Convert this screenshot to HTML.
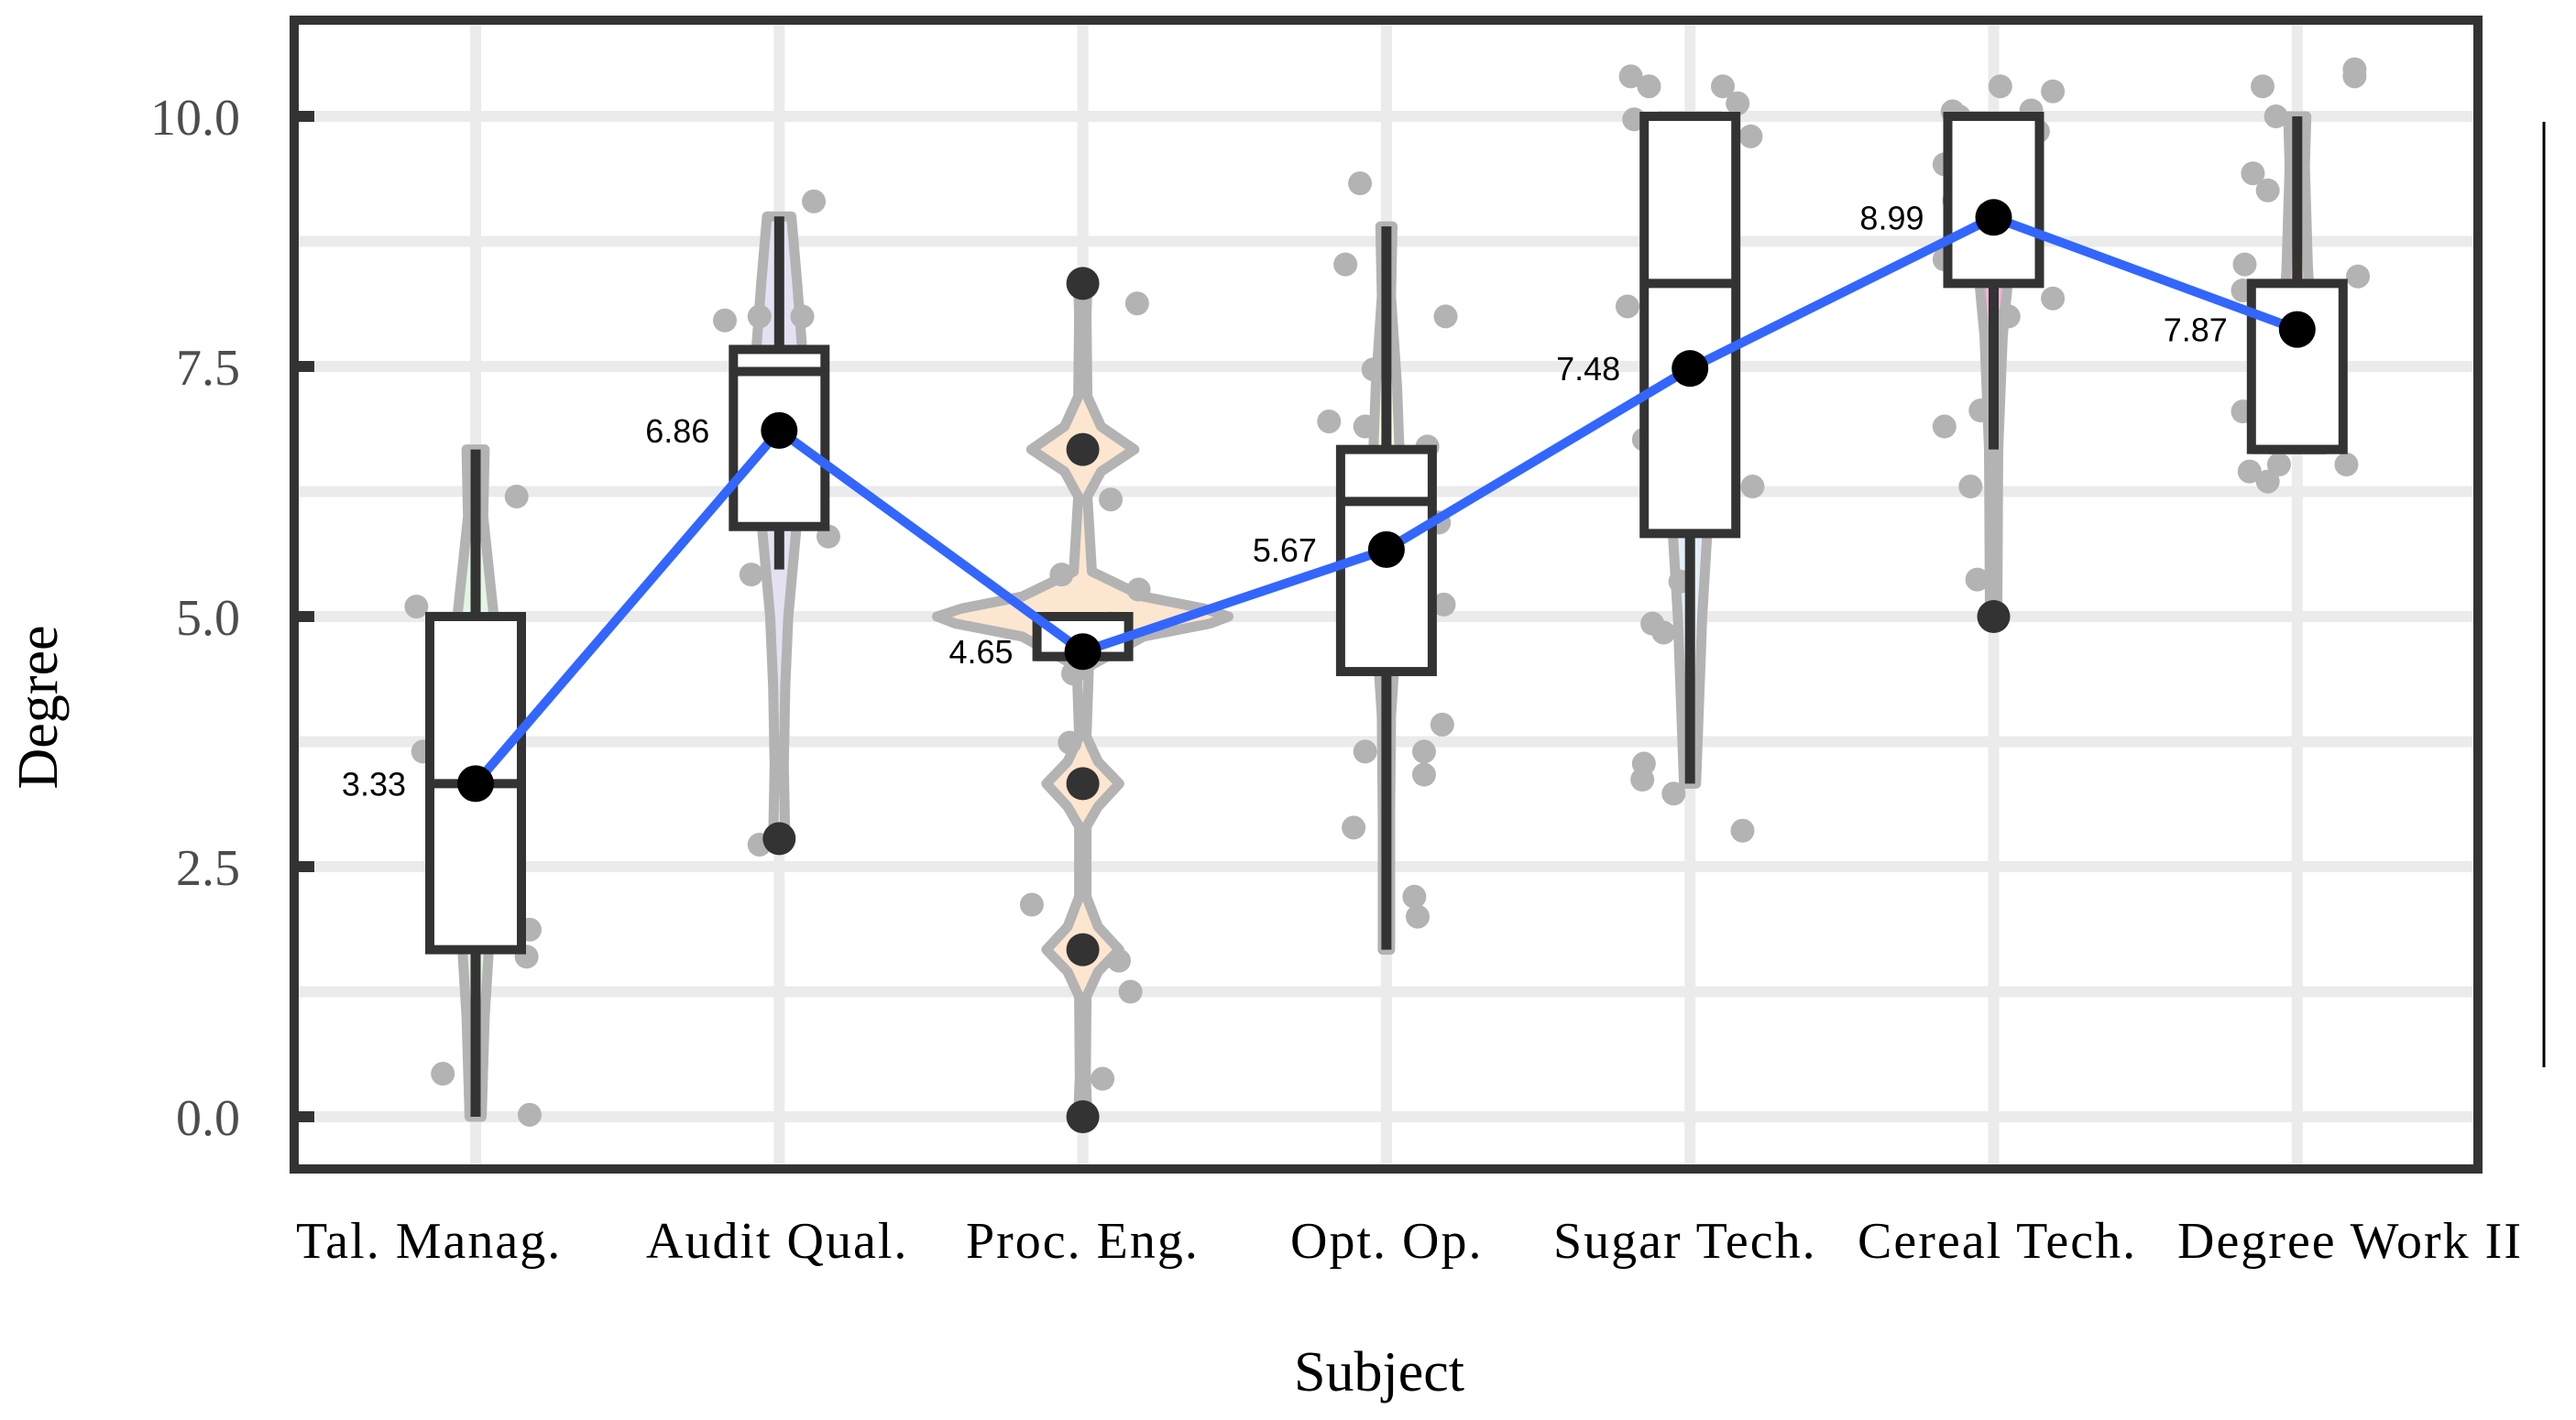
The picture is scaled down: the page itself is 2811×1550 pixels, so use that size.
<!DOCTYPE html>
<html><head><meta charset="utf-8"><style>html,body{margin:0;padding:0;background:#fff}svg{display:block}</style></head>
<body>
<svg id="chart" width="2811" height="1550" xmlns="http://www.w3.org/2000/svg">
<rect x="0" y="0" width="2811" height="1550" fill="#fff"/>
<g id="grid"></g><g id="violins"></g><g id="points"></g><g id="boxes"></g><g id="means"></g><g id="axes"></g>
</svg>
<script>
const categories = ["Tal. Manag.","Audit Qual.","Proc. Eng.","Opt. Op.","Sugar Tech.","Cereal Tech.","Degree Work II"];
const labelStart = [323,705,1054,1408,1695,2027,2376];
const meanValues = [3.33,6.86,4.65,5.67,7.48,8.99,7.87];
const q1Values = [1.67,5.9,4.6,4.45,5.83,8.33,6.67];
const medianValues = [3.33,7.45,4.6,6.15,8.33,10,6.67];
const q3Values = [5.0,7.67,5.0,6.67,10,10,8.33];
const whiskerLow = [0,5.47,4.6,1.67,3.33,6.67,6.67];
const whiskerHigh = [6.67,9.0,5.0,8.9,10,10,10];
const outliers = [[],[2.78],[8.33,6.67,3.33,1.67,0],[],[],[5.0],[]];
const violinFill = ["#e3f5e3","#e6e1f2","#fde6cf","#fafade","#e3eef8","#f2b3d6","#e9c9b0"];
// violin density: [value, half-width in category units]
const violinDensity = [
 [[0,0.02],[1,0.03],[2,0.05],[3.3,0.08],[4.5,0.07],[5,0.06],[6,0.025],[6.67,0.03]],
 [[2.78,0.02],[3.5,0.015],[4.3,0.02],[5,0.03],[6,0.06],[7,0.08],[7.7,0.075],[8.3,0.06],[9,0.04]],
 [[0,0.015],[0.4,0.01],[1.2,0.012],[1.45,0.05],[1.67,0.12],[1.9,0.05],[2.2,0.012],[2.9,0.012],[3.1,0.05],[3.33,0.12],[3.55,0.05],[3.8,0.012],[4.5,0.02],[4.8,0.2],[4.93,0.42],[5.0,0.48],[5.08,0.4],[5.2,0.2],[5.45,0.03],[6.2,0.015],[6.45,0.06],[6.67,0.17],[6.9,0.06],[7.2,0.015],[8.0,0.012],[8.33,0.015]],
 [[1.67,0.012],[3,0.012],[4,0.015],[4.7,0.03],[5.5,0.045],[6.5,0.045],[7.3,0.035],[8.2,0.015],[8.9,0.02]],
 [[3.33,0.02],[5,0.04],[6.5,0.07],[8,0.09],[9.3,0.1],[10,0.1]],
 [[5,0.012],[6.67,0.015],[7.8,0.03],[8.6,0.055],[9.4,0.075],[10,0.08]],
 [[6.67,0.09],[7.5,0.055],[8.5,0.035],[9.5,0.025],[10,0.03]]
];
const pointValues = [
 [5.1,3.65,6.2,1.87,1.6,0.43,0.02],
 [7.96,8.0,8.0,9.15,5.42,5.8,2.72],
 [8.13,6.17,2.12,1.56,1.25,0.38,5.42,5.27,3.74,4.43,4.93],
 [9.33,8.52,8.0,7.47,6.95,6.9,6.7,6.1,5.12,3.92,3.65,3.65,3.42,2.89,2.2,2.0,5.94],
 [10.4,10.3,10.3,10.13,9.97,9.8,8.1,6.77,6.3,5.35,4.93,4.84,3.53,3.37,3.23,2.86],
 [10.05,10.0,10.3,10.06,10.25,9.85,9.52,9.16,8.9,8.62,8.57,8.18,6.9,7.06,6.3,5.37,8.0],
 [10.3,10.0,10.47,10.4,9.43,9.26,8.52,8.26,8.4,7.05,6.45,6.35,6.52,6.52,7.6]
];
const pointJitter = [
 [-0.195,-0.173,0.135,0.178,0.168,-0.108,0.178],
 [-0.179,-0.065,0.076,0.114,-0.092,0.162,-0.065],
 [0.179,0.092,-0.168,0.119,0.157,0.065,-0.070,0.184,-0.043,-0.032,0.092],
 [-0.087,-0.135,0.195,-0.043,-0.189,-0.070,0.135,-0.043,0.189,0.184,-0.070,0.124,0.124,-0.108,0.092,0.103,0.173],
 [-0.195,-0.135,0.108,0.157,-0.184,0.200,-0.206,-0.152,0.206,-0.032,-0.124,-0.087,-0.152,-0.157,-0.054,0.173],
 [-0.135,-0.114,0.022,0.124,0.195,0.146,-0.162,-0.130,0.081,-0.076,-0.162,0.195,-0.162,-0.043,-0.076,-0.054,0.049],
 [-0.114,-0.070,0.189,0.189,-0.146,-0.097,-0.173,-0.179,0.200,-0.179,-0.157,-0.097,-0.060,0.162,0.081]
];
const yTicks = [0,2.5,5,7.5,10];
const yTickLabels = ["0.0","2.5","5.0","7.5","10.0"];

const NS="http://www.w3.org/2000/svg";
const L=321,R=2704,T=22,B=1276;
const X0=519,DX=331.3;
function xs(i){return X0+DX*i;}
function ys(v){return 1219-109.2*v;}
function mk(tag,attrs,parent){const e=document.createElementNS(NS,tag);for(const k in attrs)e.setAttribute(k,attrs[k]);document.getElementById(parent)?.appendChild(e);return e;}

[-1.25,1.25,3.75,6.25,8.75,11.25].forEach(v=>{const y=ys(v);if(y>T&&y<B){const e=mk('line',{x1:L,x2:R,y1:y,y2:y,stroke:'#ebebeb','stroke-width':12},'grid');

}});
yTicks.forEach(v=>{const e=mk('line',{x1:L,x2:R,y1:ys(v),y2:ys(v),stroke:'#ebebeb','stroke-width':12},'grid');

});
categories.forEach((c,i)=>{const e=mk('line',{x1:xs(i),x2:xs(i),y1:T,y2:B,stroke:'#ebebeb','stroke-width':12},'grid');

});

violinDensity.forEach((d,i)=>{
 let right=d.map(p=>[xs(i)+p[1]*DX,ys(p[0])]);
 let left=d.slice().reverse().map(p=>[xs(i)-p[1]*DX,ys(p[0])]);
 const pts=right.concat(left).map(p=>p[0].toFixed(1)+','+p[1].toFixed(1)).join(' ');
 const e=mk('polygon',{points:pts,fill:violinFill[i],stroke:'#b3b3b3','stroke-width':11,'stroke-linejoin':'round'},'violins');
 
 
});
pointValues.forEach((arr,i)=>arr.forEach((v,j)=>{
 const e=mk('circle',{cx:xs(i)+pointJitter[i][j]*DX,cy:ys(v),r:13,fill:'#b3b3b3'},'points');
 
 
}));
categories.forEach((c,i)=>{
 const x=xs(i),hw=50;
 let e=mk('line',{x1:x,x2:x,y1:ys(whiskerHigh[i]),y2:ys(q3Values[i]),stroke:'#333','stroke-width':11},'boxes');
 
 
 e=mk('line',{x1:x,x2:x,y1:ys(q1Values[i]),y2:ys(whiskerLow[i]),stroke:'#333','stroke-width':11},'boxes');
 
 
 e=mk('rect',{x:x-hw,y:ys(q3Values[i]),width:2*hw,height:Math.max(ys(q1Values[i])-ys(q3Values[i]),1),fill:'#fff',stroke:'#333','stroke-width':10},'boxes');
 
 
 e=mk('line',{x1:x-hw,x2:x+hw,y1:ys(medianValues[i]),y2:ys(medianValues[i]),stroke:'#333','stroke-width':10},'boxes');
 
 
 outliers[i].forEach(v=>{const o=mk('circle',{cx:x,cy:ys(v),r:18,fill:'#333'},'boxes');
 
 });
});
const pl=mk('polyline',{points:meanValues.map((v,i)=>xs(i)+','+ys(v)).join(' '),fill:'none',stroke:'#3366ff','stroke-width':10,'stroke-linejoin':'round'},'means');


meanValues.forEach((v,i)=>{
 const c=mk('circle',{cx:xs(i),cy:ys(v),r:20,fill:'#000'},'means');
 
 
 const t=mk('text',{x:xs(i)-76,y:ys(v)+13,'text-anchor':'end','font-family':'Liberation Sans, sans-serif','font-size':36,fill:'#000'},'means');
 t.textContent=v.toFixed(2);
 
 
});
const fr=mk('rect',{x:L,y:T,width:R-L,height:B-T,fill:'none',stroke:'#333','stroke-width':10},'axes');


yTicks.forEach((v,k)=>{
 const tk=mk('line',{x1:L,x2:L+22,y1:ys(v),y2:ys(v),stroke:'#333','stroke-width':12},'axes');
 
 
 const t=mk('text',{x:262,y:ys(v)+20,'text-anchor':'end','font-family':'Liberation Serif, serif','font-size':56,fill:'#4d4d4d'},'axes');
 t.textContent=yTickLabels[k];
 
 
});
categories.forEach((c,i)=>{
 const t=mk('text',{x:labelStart[i],y:1373,'font-family':'Liberation Serif, serif','font-size':56,fill:'#000','letter-spacing':2},'axes');
 t.textContent=c;
 
 
});
const xt=mk('text',{x:1505,y:1518,'text-anchor':'middle','font-family':'Liberation Serif, serif','font-size':62,fill:'#000'},'axes');
xt.textContent='Subject';


const yt=mk('text',{x:0,y:0,'text-anchor':'middle','font-family':'Liberation Serif, serif','font-size':62,fill:'#000',transform:'translate(62,772) rotate(-90)'},'axes');
yt.textContent='Degree';


const lg=mk('line',{x1:2776,x2:2776,y1:133,y2:1165,stroke:'#000','stroke-width':3},'axes');


</script>
</body></html>
